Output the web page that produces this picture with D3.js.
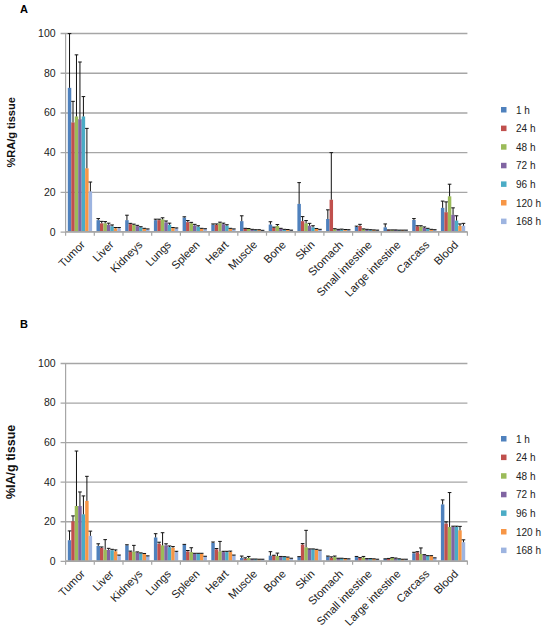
<!DOCTYPE html>
<html>
<head>
<meta charset="utf-8">
<script src="https://cdn.jsdelivr.net/npm/d3@7"></script>
<style>
  body { margin: 0; background: #fff; }
  svg { font-family: "Liberation Sans", Arial, sans-serif; }
</style>
</head>
<body>
<svg id="chart" width="547" height="633"></svg>
<script>
const categories = ["Tumor","Liver","Kidneys","Lungs","Spleen","Heart","Muscle","Bone","Skin","Stomach","Small intestine","Large intestine","Carcass","Blood"];
const seriesNames = ["1 h","24 h","48 h","72 h","96 h","120 h","168 h"];
const seriesColors = ["#4F81BD","#C0504D","#9BBB59","#8064A2","#4BACC6","#F79646","#9DB4E0"];
const yTicks = [0,20,40,60,80,100];

// Panel A: %RA/g tissue — rows = categories, columns = series (1 h ... 168 h)
const valuesA = [
  [72.4, 55.0, 58.0, 56.6, 58.0, 31.9, 20.3],
  [5.8, 4.2, 4.2, 3.5, 2.7, 1.7, 1.7],
  [5.8, 3.8, 3.3, 2.8, 2.2, 1.4, 1.2],
  [5.8, 5.8, 6.2, 4.7, 3.5, 1.8, 1.7],
  [7.1, 4.8, 4.2, 3.1, 2.5, 1.5, 1.3],
  [3.5, 3.5, 4.2, 3.8, 3.0, 1.5, 1.2],
  [5.3, 1.5, 1.4, 1.0, 0.8, 0.8, 0.6],
  [3.6, 1.9, 2.9, 1.5, 1.0, 0.9, 0.7],
  [14.0, 5.3, 4.2, 3.0, 2.2, 1.4, 1.0],
  [6.4, 16.1, 1.2, 1.0, 1.0, 0.8, 0.8],
  [2.4, 2.9, 1.2, 1.0, 0.8, 0.8, 0.7],
  [2.2, 0.8, 0.8, 0.8, 0.7, 0.7, 0.7],
  [5.9, 2.7, 2.5, 1.9, 1.4, 1.0, 0.8],
  [12.0, 9.8, 17.8, 8.5, 5.6, 2.9, 3.0]
];
const errorsA = [
  [27.3, 10.6, 31.0, 28.8, 10.0, 20.1, 4.7],
  [0.8, 1.0, 0.9, 0.8, 0.7, 0.4, 0.4],
  [2.5, 0.4, 0.5, 0.4, 0.3, 0.3, 0.2],
  [0.5, 0.5, 0.8, 0.7, 0.8, 0.3, 0.2],
  [0.4, 0.8, 0.5, 0.6, 0.5, 0.2, 0.2],
  [0.4, 0.4, 0.6, 0.5, 0.5, 0.2, 0.2],
  [2.7, 0.2, 0.2, 0.2, 0.2, 0.2, 0.1],
  [1.4, 0.4, 0.7, 0.2, 0.2, 0.2, 0.1],
  [10.7, 2.3, 1.4, 1.2, 0.8, 0.2, 0.2],
  [4.6, 23.7, 0.3, 0.2, 0.3, 0.3, 0.2],
  [0.4, 0.8, 0.2, 0.2, 0.2, 0.1, 0.1],
  [1.7, 0.1, 0.1, 0.1, 0.1, 0.1, 0.1],
  [0.7, 0.3, 0.5, 0.5, 0.3, 0.2, 0.2],
  [3.4, 5.2, 6.1, 3.5, 2.4, 1.0, 1.2]
];

// Panel B: %IA/g tissue
const valuesB = [
  [10.4, 20.0, 27.7, 27.7, 23.5, 30.3, 12.6],
  [7.5, 6.5, 5.6, 5.5, 5.3, 4.8, 2.6],
  [7.8, 4.6, 4.6, 4.2, 3.8, 3.5, 2.3],
  [11.8, 8.6, 7.8, 7.8, 6.9, 6.6, 4.4],
  [8.1, 4.7, 4.4, 3.6, 3.6, 3.6, 2.2],
  [9.0, 5.8, 4.7, 4.4, 4.4, 4.4, 2.7],
  [1.4, 1.0, 1.4, 0.8, 0.8, 0.7, 0.7],
  [2.6, 2.6, 2.4, 2.0, 1.9, 1.7, 1.2],
  [1.9, 8.2, 6.8, 5.8, 5.8, 5.5, 5.1],
  [2.1, 1.5, 1.9, 1.2, 1.2, 1.0, 0.9],
  [1.9, 1.4, 1.7, 1.0, 1.0, 0.9, 0.7],
  [0.9, 1.0, 1.4, 1.2, 0.9, 0.7, 0.7],
  [3.8, 4.3, 3.4, 2.9, 2.4, 2.4, 1.4],
  [28.5, 18.8, 17.1, 17.1, 17.1, 15.4, 9.4]
];
const errorsB = [
  [4.7, 2.7, 27.8, 7.1, 9.3, 12.4, 2.4],
  [1.1, 0.5, 5.1, 0.8, 0.5, 0.7, 0.3],
  [0.3, 0.3, 3.2, 0.3, 0.2, 0.2, 0.2],
  [1.9, 0.8, 6.4, 0.8, 0.6, 0.6, 0.4],
  [0.2, 0.5, 2.2, 0.2, 0.2, 0.2, 0.1],
  [0.5, 0.4, 5.1, 0.4, 0.4, 0.5, 0.2],
  [1.0, 0.5, 0.8, 0.1, 0.1, 0.1, 0.1],
  [2.0, 0.2, 1.5, 0.2, 0.2, 0.2, 0.1],
  [0.2, 0.5, 8.6, 0.2, 0.2, 0.3, 0.3],
  [0.3, 0.5, 0.5, 0.1, 0.1, 0.1, 0.1],
  [0.3, 0.2, 0.5, 0.1, 0.1, 0.1, 0.1],
  [0.1, 0.2, 0.2, 0.2, 0.1, 0.1, 0.1],
  [0.5, 0.3, 3.1, 0.2, 0.2, 0.2, 0.1],
  [2.3, 0.9, 17.4, 0.4, 0.4, 2.0, 1.2]
];

const svg = d3.select("#chart");

function drawPanel(cfg) {
  const { letter, letterY, yLabel, yLabelSize, top, bottom, values, errors, legendY } = cfg;
  const left = 65.6, right = 467.4;
  const g = svg.append("g");

  const x0 = d3.scaleBand().domain(categories).range([left, right]).paddingInner(0).paddingOuter(0);
  const x1 = d3.scaleBand().domain(seriesNames).range([2.2, x0.bandwidth() - 2.2]).padding(0);
  const y = d3.scaleLinear().domain([0, 100]).range([bottom, top]);

  // panel letter
  g.append("text").attr("x", 20).attr("y", letterY).attr("font-size", 11).attr("font-weight", "bold")
    .attr("fill", "#000").text(letter);

  // gridlines + y ticks
  const yAxis = d3.axisLeft(y).tickValues(yTicks).tickSize(-(right - left)).tickPadding(7).tickSizeOuter(0);
  const ya = g.append("g").attr("transform", `translate(${left},0)`).call(yAxis);
  ya.select(".domain").remove();
  ya.selectAll(".tick line").attr("stroke", "#A6A6A6").attr("stroke-width", 1.3).attr("x1", -5);
  ya.selectAll(".tick text").attr("font-size", 10.5).attr("fill", "#222").attr("font-family", "Liberation Sans, Arial, sans-serif").attr("x", -10);

  // y axis line
  g.append("line").attr("x1", left).attr("x2", left).attr("y1", top).attr("y2", bottom)
    .attr("stroke", "#A6A6A6").attr("stroke-width", 1.2);

  // bars
  const groups = g.append("g").selectAll("g").data(categories).join("g")
    .attr("transform", d => `translate(${x0(d)},0)`);
  groups.selectAll("rect").data((c, ci) => seriesNames.map((s, si) => ({ s, si, v: values[ci][si], e: errors[ci][si] })))
    .join("rect")
    .attr("x", d => x1(d.s))
    .attr("width", x1.bandwidth())
    .attr("y", d => y(d.v))
    .attr("height", d => y(0) - y(d.v))
    .attr("fill", d => seriesColors[d.si]);

  // error bars (plus only)
  const eb = groups.selectAll("g.err").data((c, ci) => seriesNames.map((s, si) => ({ s, si, v: values[ci][si], e: errors[ci][si] })))
    .join("g").attr("class", "err");
  eb.append("line")
    .attr("x1", d => x1(d.s) + x1.bandwidth() / 2).attr("x2", d => x1(d.s) + x1.bandwidth() / 2)
    .attr("y1", d => y(d.v)).attr("y2", d => y(d.v + d.e))
    .attr("stroke", "#111").attr("stroke-width", 1);
  eb.append("line")
    .attr("x1", d => x1(d.s) + x1.bandwidth() / 2 - 1.8).attr("x2", d => x1(d.s) + x1.bandwidth() / 2 + 1.8)
    .attr("y1", d => y(d.v + d.e)).attr("y2", d => y(d.v + d.e))
    .attr("stroke", "#111").attr("stroke-width", 1);

  // x axis
  g.append("line").attr("x1", left).attr("x2", right).attr("y1", bottom).attr("y2", bottom)
    .attr("stroke", "#A6A6A6").attr("stroke-width", 1.3);
  const bounds = categories.map(c => x0(c)).concat([right]);
  g.append("g").selectAll("line").data(bounds).join("line")
    .attr("x1", d => d).attr("x2", d => d).attr("y1", bottom).attr("y2", bottom + 4)
    .attr("stroke", "#A6A6A6").attr("stroke-width", 1.2);
  g.append("g").selectAll("text").data(categories).join("text")
    .attr("transform", d => `translate(${x0(d) + x0.bandwidth() / 2 + 3},${bottom + 11}) rotate(-45)`)
    .attr("text-anchor", "end").attr("dy", "0.35em")
    .attr("font-size", 11.2).attr("fill", "#222").text(d => d);

  // y label
  g.append("text")
    .attr("transform", `translate(15,${(top + bottom) / 2}) rotate(-90)`)
    .attr("text-anchor", "middle").attr("font-size", yLabelSize).attr("font-weight", "bold").attr("fill", "#111")
    .text(yLabel);

  // legend
  const lg = g.append("g").selectAll("g").data(seriesNames).join("g")
    .attr("transform", (d, i) => `translate(501,${legendY + i * 18.6})`);
  lg.append("rect").attr("x", 0).attr("y", -3).attr("width", 5.5).attr("height", 5.5)
    .attr("fill", (d, i) => seriesColors[i]);
  lg.append("text").attr("x", 15).attr("y", 0).attr("dy", "0.35em").attr("font-size", 10)
    .attr("fill", "#222").text(d => d);
}

drawPanel({ letter: "A", letterY: 13, yLabel: "%RA/g tissue", yLabelSize: 11, top: 33, bottom: 231.7,
  values: valuesA, errors: errorsA, legendY: 110 });
drawPanel({ letter: "B", letterY: 328, yLabel: "%IA/g tissue", yLabelSize: 12.5, top: 363, bottom: 560.8,
  values: valuesB, errors: errorsB, legendY: 439 });
</script>
</body>
</html>
